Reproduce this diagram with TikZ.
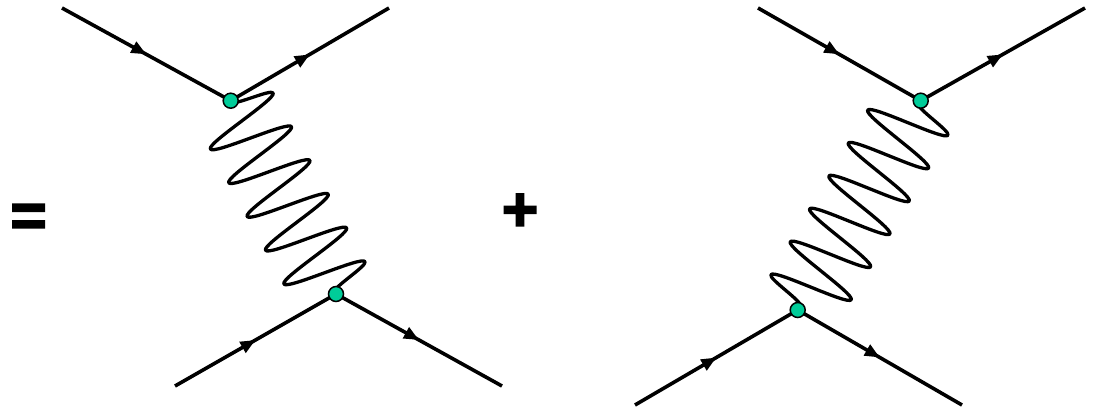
\documentclass[tikz,border=0pt]{standalone}
\usepackage{fontspec}
\newfontfamily\bigsymfnt[FakeBold=3]{Liberation Sans Bold}
\usetikzlibrary{decorations.pathmorphing,decorations.markings,arrows.meta}
\definecolor{vgreen}{RGB}{0,204,153}
\tikzset{
  fermion/.style={line width=3.6pt, postaction={decorate},
    decoration={markings, mark=at position 0.5 with {\arrow{Triangle[length=15pt,width=12pt]}}}},
  photon/.style={line width=3.3pt, line join=round, decorate},
  vertexdot/.style={circle, fill=vgreen, draw=black, line width=1.5pt, minimum size=15pt, inner sep=0pt},
  opsign/.style={font=\bigsymfnt\fontsize{62}{62}\selectfont, inner sep=0pt}
}
\begin{document}
\begin{tikzpicture}[x=1pt,y=-1pt]
\useasboundingbox (0,0) rectangle (1093,410);
% left diagram
\coordinate (v1) at (230.7,100.7);
\coordinate (v2) at (336,294);
\coordinate (a1) at (62,8);
\coordinate (b1) at (389,8);
\coordinate (c1) at (175,386);
\coordinate (e1) at (502,386);
\draw[photon, decoration={snake, amplitude=41pt, segment length=38.42pt, pre length=1.5pt, post length=1.5pt}] (v1) -- (v2);
\draw[fermion] (a1) -- (v1);
\draw[fermion] (v1) -- (b1);
\draw[fermion] (c1) -- (v2);
\draw[fermion] (v2) -- (e1);
\node[vertexdot] (d1) at (v1) {};
\node[vertexdot] (d2) at (v2) {};
% right diagram
\coordinate (v3) at (920.7,100.7);
\coordinate (v4) at (797.7,310);
\coordinate (a2) at (758,8);
\coordinate (b2) at (1085,8);
\coordinate (c2) at (635,405);
\coordinate (e2) at (962,405);
\draw[photon, decoration={snake, amplitude=41pt, segment length=38.18pt, pre length=4pt, post length=4pt}] (v3) -- (v4);
\draw[fermion] (a2) -- (v3);
\draw[fermion] (v3) -- (b2);
\draw[fermion] (c2) -- (v4);
\draw[fermion] (v4) -- (e2);
\node[vertexdot] (d3) at (v3) {};
\node[vertexdot] (d4) at (v4) {};
% signs
\node[opsign] (eq) at (28.5,220.5) {=};
\node[opsign] (pl) at (520,212.3) {+};
\end{tikzpicture}
\end{document}
